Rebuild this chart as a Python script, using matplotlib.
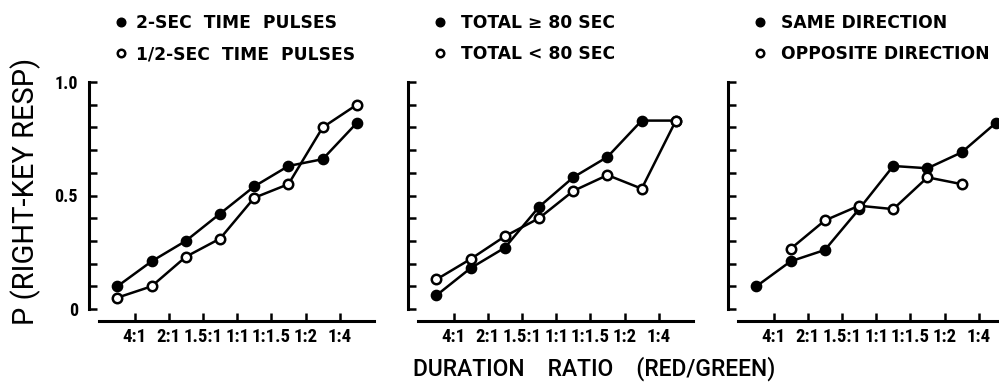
import numpy as np
import matplotlib
matplotlib.use("Agg")
import matplotlib.pyplot as plt
from matplotlib.lines import Line2D
from matplotlib import font_manager

# ---- data -------------------------------------------------------------
ratio_labels = ["4:1", "2:1", "1.5:1", "1:1", "1:1.5", "1:2", "1:4"]
point_pos = np.arange(8)              # plotted conditions (between ratio ticks)
tick_pos = np.arange(7) + 0.5         # ratio tick marks

pulses_2sec = [0.10, 0.21, 0.30, 0.42, 0.54, 0.63, 0.66, 0.82]
pulses_half = [0.05, 0.10, 0.23, 0.31, 0.49, 0.55, 0.80, 0.90]

total_ge80 = [0.06, 0.18, 0.27, 0.45, 0.58, 0.67, 0.83, 0.83]
total_lt80 = [0.13, 0.22, 0.32, 0.40, 0.52, 0.59, 0.53, 0.83]

same_dir = [0.10, 0.21, 0.26, 0.44, 0.63, 0.62, 0.69, 0.82]
opposite_dir = [np.nan, 0.265, 0.39, 0.455, 0.44, 0.58, 0.55, np.nan]

panels = [
    (pulses_2sec, pulses_half, "2-SEC  TIME  PULSES", "1/2-SEC  TIME  PULSES"),
    (total_ge80, total_lt80, "TOTAL \u2265 80 SEC", "TOTAL < 80 SEC"),
    (same_dir, opposite_dir, "SAME DIRECTION", "OPPOSITE DIRECTION"),
]

# ---- fonts --------------------------------------------------------------
available = {f.name for f in font_manager.fontManager.ttflist}
narrow = "Roboto"
for cand in ("Liberation Sans Narrow", "DejaVu Sans Condensed",
             "Roboto Condensed", "Open Sans Condensed"):
    if cand in available:
        narrow = cand
        break
plt.rcParams["font.family"] = ["DejaVu Sans"]

W, H = 999, 385
fig = plt.figure(figsize=(W / 100, H / 100), dpi=100)


def fx(px):
    return px / W


def fy(py):
    return 1 - py / H


ax_left_px = [89, 408, 728]
legend_pad = [0.55, 0.9, 0.95]
ax_top_px, ax_bot_px = 82, 309
ax_w_px = 285
ink = "black"

for i, (filled, hollow, lab_f, lab_o) in enumerate(panels):
    ax = fig.add_axes([fx(ax_left_px[i]), fy(ax_bot_px), fx(ax_w_px),
                       (ax_bot_px - ax_top_px) / H])
    ax.set_xlim(-0.83, 7.5)
    ax.set_ylim(0, 1)
    ax.patch.set_visible(False)

    ax.plot(point_pos, filled, color=ink, lw=1.8, marker="o", ms=7.4,
            mfc=ink, mec=ink, clip_on=False, zorder=3)
    ax.plot(point_pos, hollow, color=ink, lw=1.8, marker="o", ms=6.8,
            mfc="white", mec=ink, mew=1.8, clip_on=False, zorder=4)

    for s in ("top", "right"):
        ax.spines[s].set_visible(False)
    ax.spines["left"].set_linewidth(2.2)
    ax.spines["left"].set_bounds(0, 1)
    ax.spines["bottom"].set_linewidth(2.2)
    ax.spines["bottom"].set_position(("outward", 8.6))
    ax.spines["bottom"].set_bounds(-0.55, 7.5)

    # y axis: a tick every 0.1, labels only on the first panel
    ax.set_yticks([0, 0.5, 1.0])
    ax.set_yticks(np.arange(0, 1.01, 0.1), minor=True)
    ax.tick_params(axis="y", which="both", direction="in", length=5.5,
                   width=1.8, color=ink)
    if i == 0:
        ax.set_yticklabels(["0", "0.5", "1.0"], fontsize=13, family=narrow,
                           fontweight="bold")
        ax.tick_params(axis="y", pad=8)
    else:
        ax.set_yticklabels([])

    # x axis: upward ticks with ratio labels
    ax.set_xticks(tick_pos)
    ax.set_xticklabels(ratio_labels, fontsize=13.5, family=narrow,
                       fontweight="bold")
    ax.tick_params(axis="x", direction="in", length=5.5, width=1.8,
                   color=ink, pad=5)

    handles = [
        Line2D([], [], ls="none", marker="o", ms=6.2, mfc=ink, mec=ink),
        Line2D([], [], ls="none", marker="o", ms=5.4, mfc="white", mec=ink,
               mew=1.8),
    ]
    ax.legend(handles, [lab_f, lab_o], loc="upper left",
              bbox_to_anchor=(fx(ax_left_px[i] + 27), fy(14)),
              bbox_transform=fig.transFigure, frameon=False,
              prop={"size": 12.3, "weight": "bold"}, handlelength=0.6,
              handletextpad=legend_pad[i], labelspacing=0.78, borderpad=0,
              borderaxespad=0)

fig.text(fx(26), fy(191), "P (RIGHT-KEY RESP)", rotation=90, fontsize=21,
         family="Roboto", ha="center", va="center")
fig.text(fx(594), fy(369), "DURATION    RATIO    (RED/GREEN)", fontsize=16.5,
         family="Roboto", fontweight="medium", ha="center", va="center")

fig.savefig("out.png", dpi=100)
